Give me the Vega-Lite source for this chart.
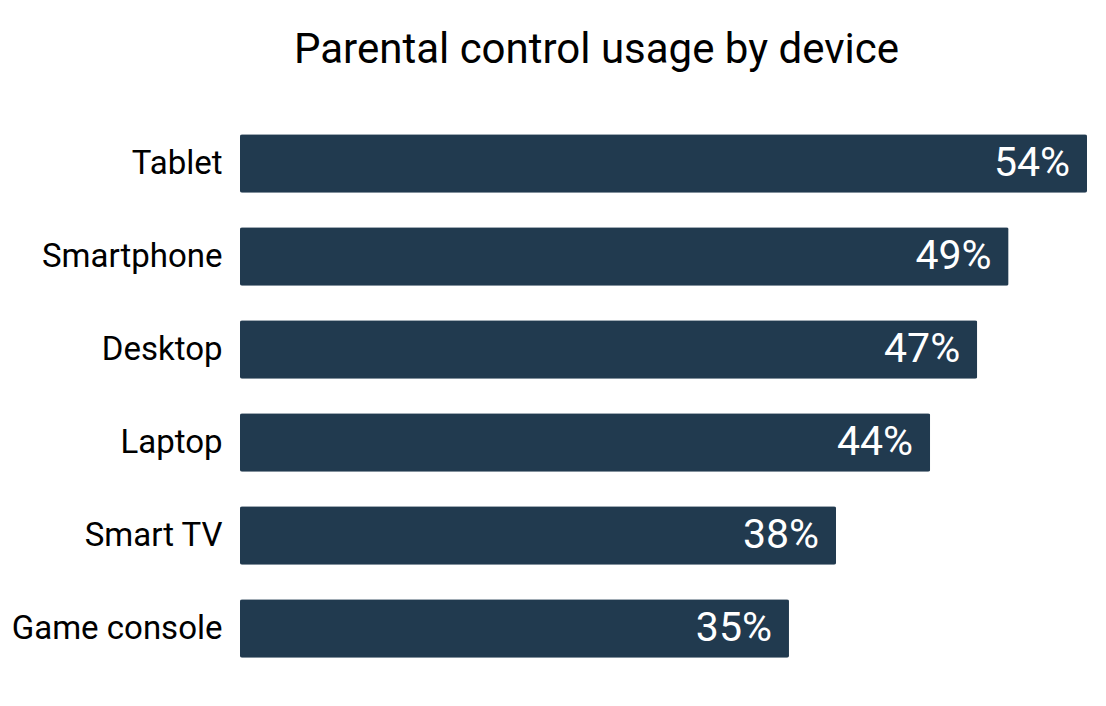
{
  "$schema": "https://vega.github.io/schema/vega-lite/v6.json",
  "width": 847,
  "height": 558,
  "autosize": {"type": "none"},
  "padding": {"left": 240, "top": 117, "right": 19, "bottom": 31},
  "background": "white",
  "title": {
    "text": "Parental control usage by device",
    "font": "Roboto",
    "fontSize": 42,
    "fontWeight": "normal",
    "color": "#000000",
    "anchor": "middle",
    "baseline": "alphabetic",
    "offset": 12,
    "dx": -67
  },
  "config": {"view": {"stroke": null}},
  "data": {
    "values": [
      {"device": "Tablet", "pct": 54},
      {"device": "Smartphone", "pct": 49},
      {"device": "Desktop", "pct": 47},
      {"device": "Laptop", "pct": 44},
      {"device": "Smart TV", "pct": 38},
      {"device": "Game console", "pct": 35}
    ]
  },
  "encoding": {
    "y": {
      "field": "device",
      "type": "nominal",
      "sort": null,
      "scale": {"paddingInner": 0.37, "paddingOuter": 0.185},
      "axis": {
        "title": null,
        "domain": false,
        "ticks": false,
        "labelFont": "Roboto",
        "labelFontSize": 33,
        "labelColor": "#000000",
        "labelPadding": 18,
        "labelLimit": 300
      }
    },
    "x": {
      "field": "pct",
      "type": "quantitative",
      "scale": {"domain": [0, 54], "nice": false},
      "axis": null
    }
  },
  "layer": [
    {
      "mark": {"type": "bar", "color": "#213a4f", "cornerRadius": 2}
    },
    {
      "mark": {
        "type": "text",
        "align": "right",
        "baseline": "middle",
        "dx": -17,
        "font": "Roboto",
        "fontSize": 41,
        "color": "#ffffff"
      },
      "encoding": {
        "text": {"field": "label", "type": "nominal"}
      },
      "transform": [{"calculate": "datum.pct + '%'", "as": "label"}]
    }
  ]
}
